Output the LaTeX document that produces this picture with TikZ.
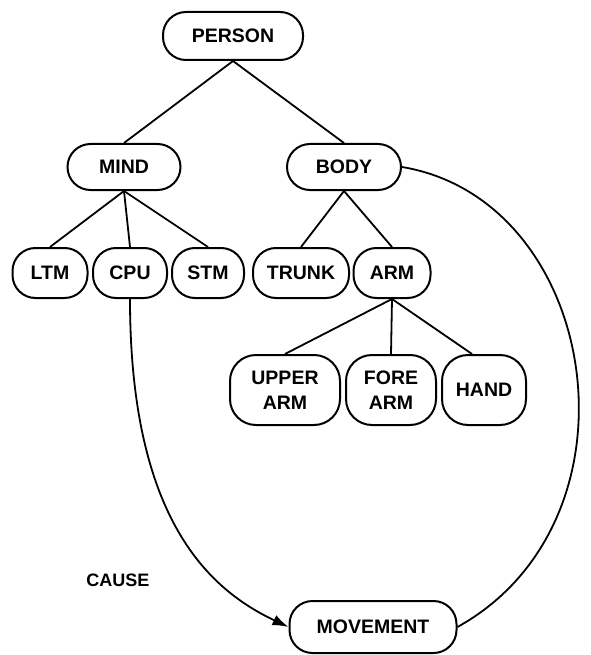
\documentclass[tikz,border=0pt]{standalone}
\usepackage{fontspec}
\setmainfont{Liberation Sans}
\usetikzlibrary{arrows.meta}
\begin{document}
\begin{tikzpicture}[x=1pt,y=-1pt,
  box/.style={draw, line width=2pt, rounded corners=23pt, inner sep=0pt,
    font=\bfseries\fontsize{19.5}{25}\selectfont, align=center},
  link/.style={line width=1.8pt},
  arr/.style={line width=1.8pt, -{Latex[length=16pt,width=11pt]}}]
\useasboundingbox (0,0) rectangle (590,655);
\node[box, minimum width=140pt, minimum height=48pt] (person) at (233,36) {PERSON};
\node[box, minimum width=113pt, minimum height=46pt] (mind) at (124,167) {MIND};
\node[box, minimum width=114pt, minimum height=46pt] (body) at (344,167) {BODY};
\node[box, minimum width=75pt, minimum height=50pt] (ltm) at (50,273) {LTM};
\node[box, minimum width=74pt, minimum height=50pt] (cpu) at (130,273) {CPU};
\node[box, minimum width=72pt, minimum height=50pt] (stm) at (208,273) {STM};
\node[box, minimum width=96pt, minimum height=50pt] (trunk) at (301,273) {TRUNK};
\node[box, minimum width=77pt, minimum height=50pt] (arm) at (392,273) {ARM};
\node[box, minimum width=110pt, minimum height=70pt, rounded corners=26pt] (upper) at (285,390) {UPPER\\ARM};
\node[box, minimum width=90pt, minimum height=70pt, rounded corners=26pt] (fore) at (391,390) {FORE\\ARM};
\node[box, minimum width=84pt, minimum height=70pt, rounded corners=26pt] (hand) at (484,390) {HAND};
\node[box, minimum width=167pt, minimum height=52pt] (move) at (373,627) {MOVEMENT};
\node[font=\bfseries\fontsize{18}{22}\selectfont] (cause) at (118,580) {CAUSE};
\draw[link] (person.south) -- (mind.north);
\draw[link] (person.south) -- (body.north);
\draw[link] (mind.south) -- (ltm.north);
\draw[link] (mind.south) -- (cpu.north);
\draw[link] (mind.south) -- (stm.north);
\draw[link] (body.south) -- (trunk.north);
\draw[link] (body.south) -- (arm.north);
\draw[link] (arm.south) -- (upper.north);
\draw[link] (arm.south) -- (fore.north);
\draw[link] (arm.south) -- ([xshift=-12pt]hand.north);
\draw[arr] (cpu.south) .. controls (130,520) and (210,590) .. (move.west);
\draw[link] (body.east) .. controls (600,200) and (650,520) .. (move.east);
\end{tikzpicture}
\end{document}
